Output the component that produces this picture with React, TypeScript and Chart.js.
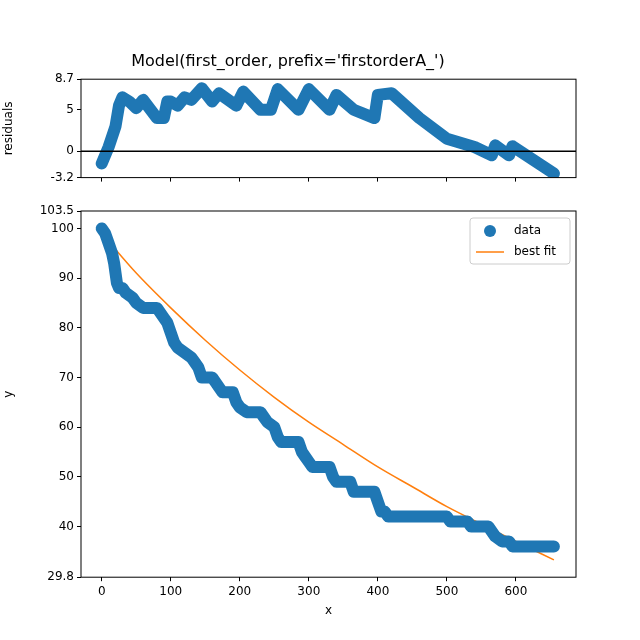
import React, { useEffect, useRef } from "react";
import { Chart, registerables } from "chart.js";

Chart.register(...registerables);

// step-like measured data (x, y)
const dataX = [0, 5, 10, 15, 18, 20, 22, 25, 30, 35, 45, 50, 60, 80, 85, 90, 95, 100, 105, 110, 120, 130, 135, 140, 145, 160, 165, 175, 190, 195, 200, 210, 230, 235, 240, 250, 255, 260, 285, 290, 295, 300, 305, 330, 335, 340, 360, 365, 395, 400, 405, 410, 415, 500, 505, 530, 535, 560, 565, 570, 580, 590, 595, 655];
const dataY = [100, 99, 97, 95, 93, 91, 89, 88, 88, 87, 86, 85, 84, 84, 83, 82, 81, 79, 77, 76, 75, 74, 73, 72, 70, 70, 69, 67, 67, 65, 64, 63, 63, 62, 61, 60, 58, 57, 57, 55, 54, 53, 52, 52, 50, 49, 49, 47, 47, 45, 43, 43, 42, 42, 41, 41, 40, 40, 39, 38, 37, 37, 36, 36];

// best fit curve
const fitX = [0, 50, 100, 150, 200, 250, 300, 350, 400, 450, 500, 550, 600, 655];
const fitY = [99, 91, 84, 77.5, 71.5, 66, 61, 56.5, 52, 48, 44, 40.5, 37, 33.3];

// residuals
const resX = [0, 5, 10, 20, 25, 30, 40, 50, 60, 80, 90, 95, 100, 110, 120, 130, 145, 160, 170, 195, 205, 230, 245, 255, 285, 300, 330, 340, 365, 395, 400, 420, 460, 500, 540, 565, 570, 590, 595, 655];
const resY = [-1.5, -0.5, 0.5, 3, 5.5, 6.5, 6, 5.2, 6.2, 4, 4, 6, 6, 5.5, 6.5, 6.2, 7.6, 6, 7, 5.5, 7.2, 5, 5, 7.5, 5, 7.5, 5, 6.8, 5, 4, 6.8, 7, 4, 1.5, 0.5, -0.5, 0.7, -0.5, 0.6, -2.7];

const xTicks = [0, 100, 200, 300, 400, 500, 600];
const font = { family: "DejaVu Sans", size: 12 };

const pts = (xs: number[], ys: number[]) => xs.map((x, i) => ({ x, y: ys[i] }));

const frame = {
  id: "frame",
  afterDraw(c: Chart) {
    const a = c.chartArea;
    const ctx = c.ctx;
    ctx.save();
    ctx.strokeStyle = "#000";
    ctx.lineWidth = 1;
    ctx.strokeRect(a.left, a.top, a.right - a.left, a.bottom - a.top);
    ctx.restore();
  },
};

const axis = (min: number, max: number, extra: any) => ({
  type: "linear" as const,
  min,
  max,
  grid: { drawOnChartArea: false, drawTicks: true, tickLength: 4, color: "#000" },
  border: { display: false },
  ...extra,
});

export default function App() {
  const topRef = useRef<HTMLCanvasElement | null>(null);
  const botRef = useRef<HTMLCanvasElement | null>(null);

  useEffect(() => {
    if (!topRef.current || !botRef.current) return;
    const top = new Chart(topRef.current, {
      type: "scatter",
      data: {
        datasets: [
          {
            data: [{ x: -30, y: 0 }, { x: 687, y: 0 }],
            showLine: true,
            borderColor: "#000",
            borderWidth: 1.5,
            pointRadius: 0,
          },
          {
            data: pts(resX, resY),
            showLine: true,
            borderColor: "#1f77b4",
            borderWidth: 12,
            borderCapStyle: "round",
            borderJoinStyle: "round",
            pointRadius: 0,
          },
        ],
      },
      options: {
        animation: false,
        responsive: false,
        layout: { padding: { right: 64, top: 0 } },
        plugins: {
          legend: { display: false },
          tooltip: { enabled: false },
          title: {
            display: true,
            text: "Model(first_order, prefix='firstorderA_')",
            color: "#000",
            font: { family: "DejaVu Sans", size: 16, weight: "normal" },
            padding: { top: 0, bottom: 8 },
          },
        },
        scales: {
          x: axis(-30, 687, {
            afterBuildTicks: (s: any) => { s.ticks = xTicks.map((v) => ({ value: v })); },
            ticks: { callback: () => "", font },
          }),
          y: axis(-3.2, 8.7, {
            afterFit: (s: any) => { s.width = 81; },
            ticks: { stepSize: 5, color: "#000", font },
            title: { display: true, text: "residuals", color: "#000", font, padding: 2 },
          }),
        },
      },
      plugins: [frame],
    });

    const bot = new Chart(botRef.current, {
      type: "scatter",
      data: {
        datasets: [
          {
            label: "data",
            data: pts(dataX, dataY),
            showLine: true,
            borderColor: "#1f77b4",
            backgroundColor: "#1f77b4",
            borderWidth: 12,
            borderCapStyle: "round",
            borderJoinStyle: "round",
            pointRadius: 0,
          },
          {
            label: "best fit",
            data: pts(fitX, fitY),
            showLine: true,
            borderColor: "#ff7f0e",
            backgroundColor: "#ff7f0e",
            borderWidth: 1.5,
            cubicInterpolationMode: "monotone",
            pointRadius: 0,
          },
        ],
      },
      options: {
        animation: false,
        responsive: false,
        layout: { padding: { right: 64, top: 11 } },
        plugins: {
          tooltip: { enabled: false },
          legend: {
            display: false,
          },
        },
        scales: {
          x: axis(-30, 687, {
            afterBuildTicks: (s: any) => { s.ticks = xTicks.map((v) => ({ value: v })); },
            ticks: { color: "#000", font },
            title: { display: true, text: "x", color: "#000", font, padding: 2 },
          }),
          y: axis(29.8, 103.5, {
            afterFit: (s: any) => { s.width = 81; },
            ticks: { stepSize: 10, color: "#000", font },
            title: { display: true, text: "y", color: "#000", font, padding: 2 },
          }),
        },
      },
      plugins: [
        frame,
        {
          id: "mplLegend",
          afterDraw(c: Chart) {
            const ctx = c.ctx;
            const a = c.chartArea;
            const w = 100, h = 46;
            const x0 = a.right - 6 - w, y0 = a.top + 7;
            ctx.save();
            ctx.fillStyle = "rgba(255,255,255,0.8)";
            ctx.strokeStyle = "#ccc";
            ctx.lineWidth = 1;
            ctx.beginPath();
            ctx.roundRect(x0, y0, w, h, 3);
            ctx.fill();
            ctx.stroke();
            ctx.fillStyle = "#1f77b4";
            ctx.beginPath();
            ctx.arc(x0 + 20, y0 + 13, 6, 0, Math.PI * 2);
            ctx.fill();
            ctx.strokeStyle = "#ff7f0e";
            ctx.lineWidth = 1.5;
            ctx.beginPath();
            ctx.moveTo(x0 + 6, y0 + 34);
            ctx.lineTo(x0 + 34, y0 + 34);
            ctx.stroke();
            ctx.fillStyle = "#000";
            ctx.font = "12px 'DejaVu Sans'";
            ctx.textBaseline = "middle";
            ctx.fillText("data", x0 + 44, y0 + 13);
            ctx.fillText("best fit", x0 + 44, y0 + 34);
            ctx.restore();
          },
        },
      ],
    });

    return () => {
      top.destroy();
      bot.destroy();
    };
  }, []);

  return (
    <div style={{ position: "absolute", left: 0, top: 0, width: 640, height: 640, background: "#fff" }}>
      <canvas ref={topRef} width={640} height={150} style={{ position: "absolute", left: 0, top: 52 }} />
      <canvas ref={botRef} width={640} height={420} style={{ position: "absolute", left: 0, top: 200 }} />
    </div>
  );
}
